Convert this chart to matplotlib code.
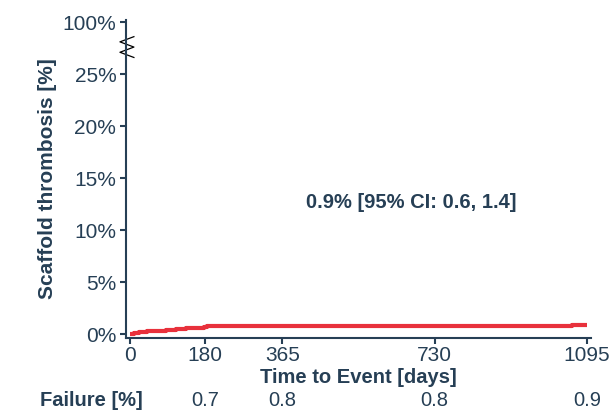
import matplotlib
matplotlib.use("Agg")
import matplotlib.pyplot as plt
import matplotlib.transforms as mtransforms

plt.rcParams["font.family"] = ["Liberation Sans", "DejaVu Sans"]

navy = "#263f55"
red = "#e8313c"

# cumulative event curve (days, %)
days = [0, 8, 20, 40, 60, 85, 110, 135, 160, 178, 185, 1040, 1060, 1095]
rate = [0.0, 0.1, 0.2, 0.3, 0.35, 0.45, 0.5, 0.6, 0.65, 0.74, 0.84, 0.84, 0.93, 0.93]

x_ticks = [0, 180, 365, 730, 1095]
y_ticks = [0, 5, 10, 15, 20, 25]
y_labels = ["0%", "5%", "10%", "15%", "20%", "25%"]
top_tick = 30.0  # broken axis position for 100%
top_label = "100%"

fail_days = [180, 365, 730, 1095]
fail_vals = ["0.7", "0.8", "0.8", "0.9"]
annot = "0.9% [95% CI: 0.6, 1.4]"

fig = plt.figure(figsize=(6.09, 4.13), dpi=100)
ax = fig.add_axes([126 / 609, 1 - 337.5 / 413, (591 - 126) / 609, (337.5 - 20) / 413])

ax.step(days, rate, where="post", color=red, lw=3, solid_capstyle="butt")

ax.set_xlim(-10, 1105)
ax.set_ylim(-0.3, 30.2)
ax.set_xticks(x_ticks)
ax.set_yticks(y_ticks + [top_tick])
ax.set_yticklabels(y_labels + [top_label])

for s in ["top", "right"]:
    ax.spines[s].set_visible(False)
for s in ["left", "bottom"]:
    ax.spines[s].set_color(navy)
    ax.spines[s].set_linewidth(1.5)
ax.tick_params(colors=navy, labelcolor=navy, labelsize=15, width=1.5, length=4)
ax.tick_params(axis="x", pad=2)
ax.tick_params(axis="y", pad=3)

ax.set_ylabel("Scaffold thrombosis [%]", fontsize=15, fontweight="bold", color=navy, labelpad=4)
ax.set_xlabel("Time to Event [days]", fontsize=14.5, fontweight="bold", color=navy, labelpad=2)

ax.text(673, 12.7, annot, ha="center", va="center", fontsize=14.5, fontweight="bold", color=navy)

# axis break zigzag
trans = mtransforms.blended_transform_factory(ax.transAxes, ax.transData)
zx = [0.017, -0.013, 0.017, -0.013, 0.017]
zy = [28.6, 28.1, 27.6, 27.1, 26.6]
ax.plot(zx, zy, color="black", lw=0.9, transform=trans, clip_on=False)

# failure table row
row = mtransforms.blended_transform_factory(ax.transData, fig.transFigure)
fig.text(40 / 609, 1 - 401 / 413, "Failure [%]", ha="left", va="center",
         fontsize=14.5, fontweight="bold", color=navy)
for d, v in zip(fail_days, fail_vals):
    ax.text(d, 1 - 401 / 413, v, transform=row, ha="center", va="center",
            fontsize=14.5, color=navy, clip_on=False)

fig.savefig("out.png", dpi=100)
